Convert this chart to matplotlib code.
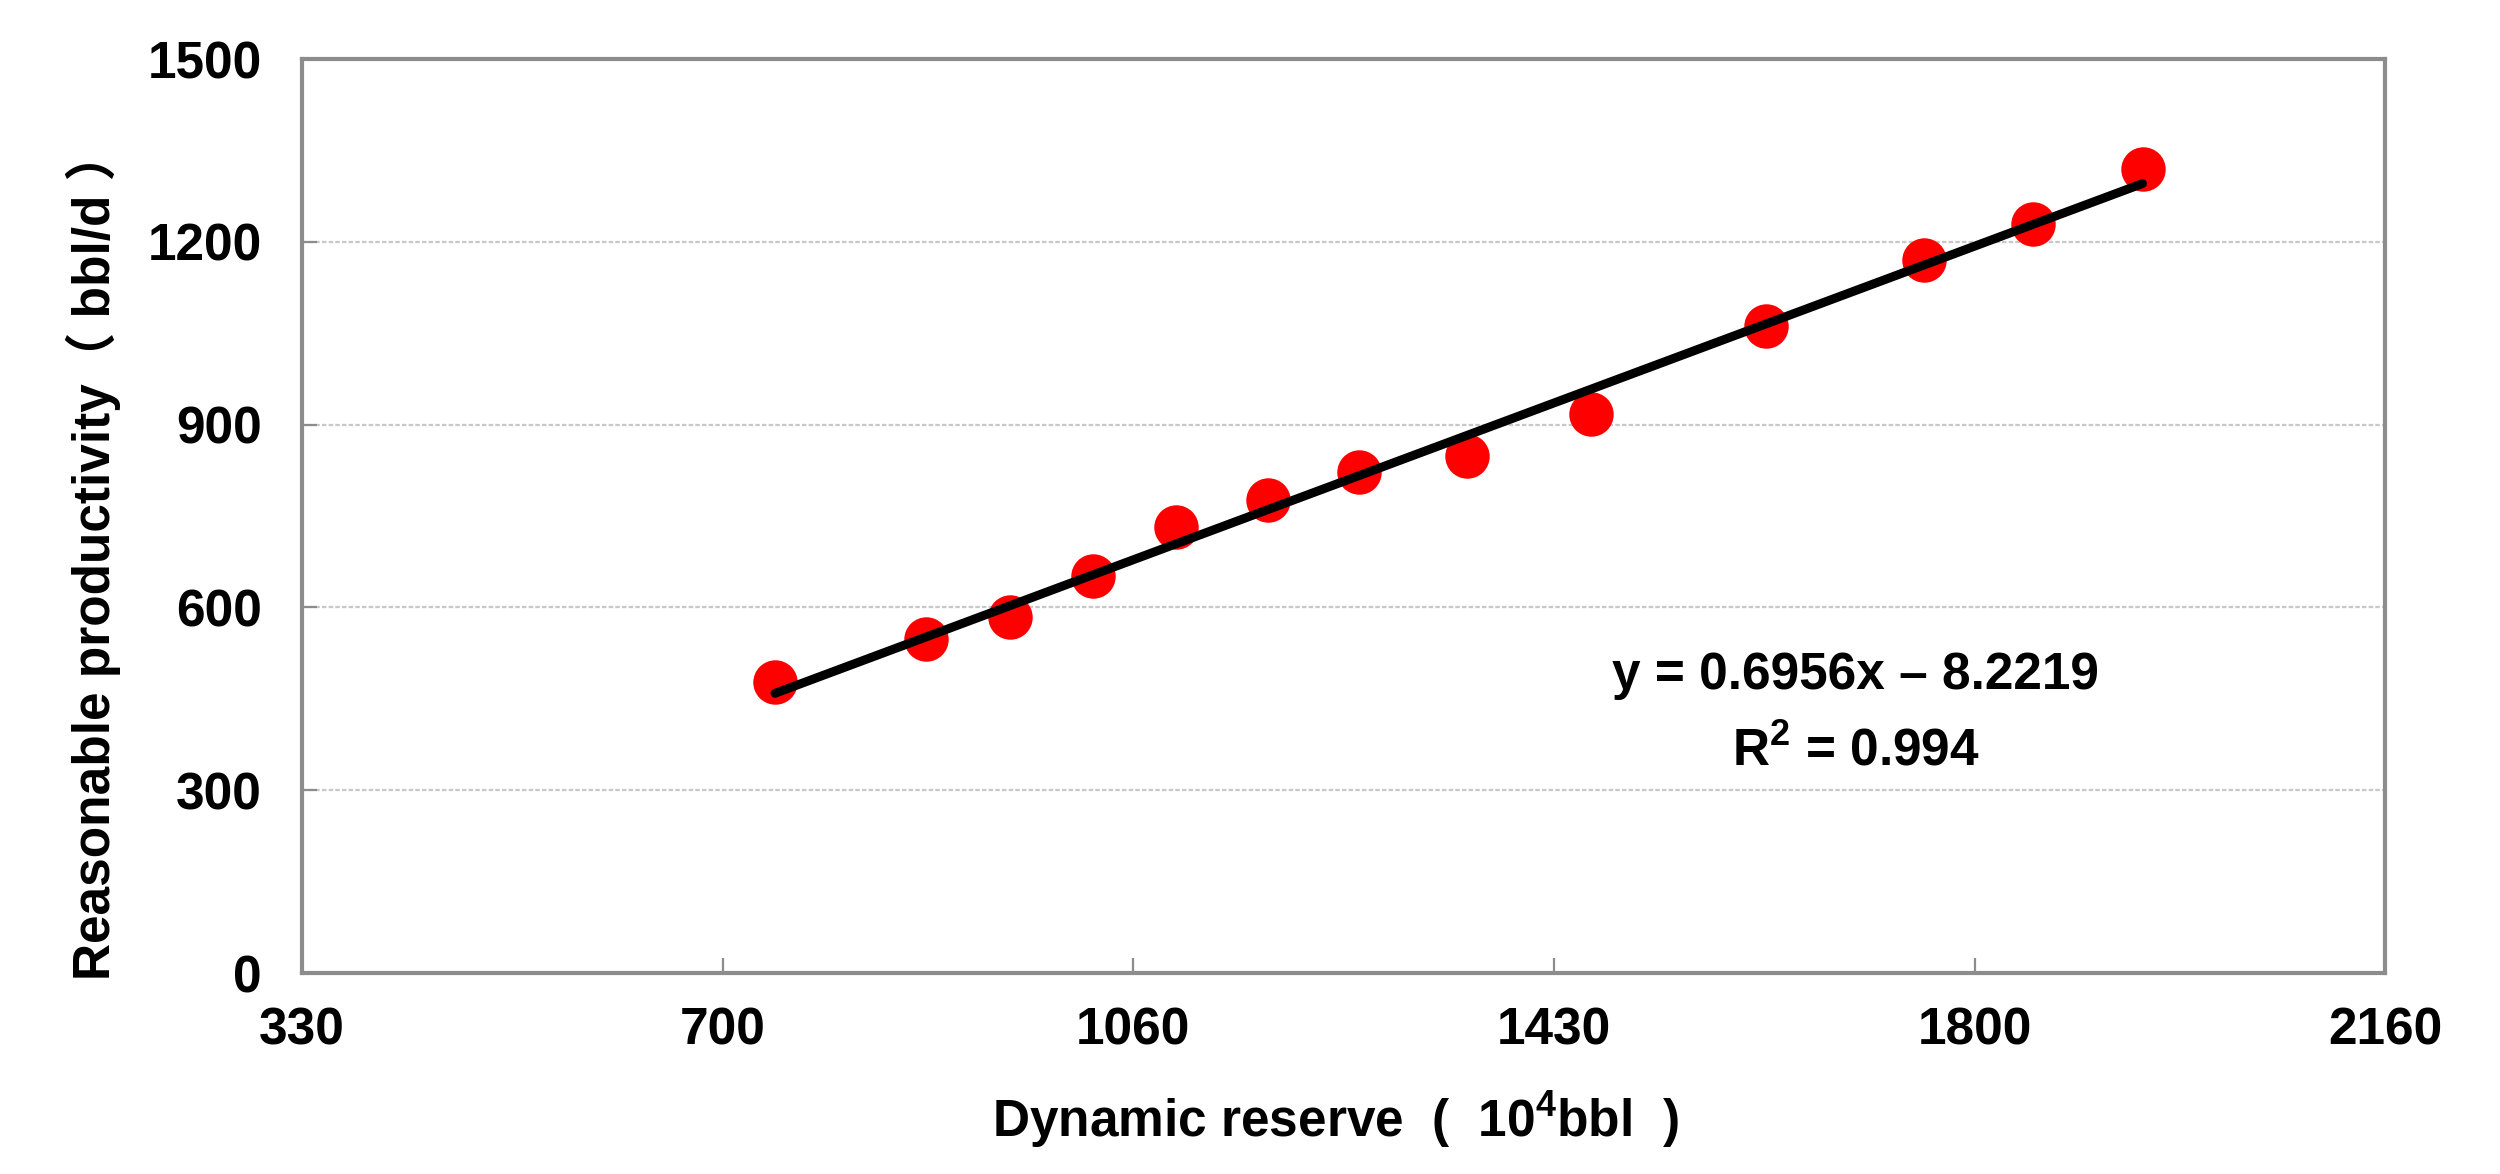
import matplotlib
matplotlib.use("Agg")
import matplotlib.pyplot as plt
import numpy as np

plt.rcParams['font.family'] = ['Liberation Sans', 'Noto Sans CJK SC', 'DejaVu Sans']
plt.rcParams['font.weight'] = 'bold'
plt.rcParams['mathtext.fontset'] = 'custom'
plt.rcParams['mathtext.bf'] = 'Liberation Sans:bold'
plt.rcParams['mathtext.rm'] = 'Liberation Sans:bold'
plt.rcParams['mathtext.default'] = 'bf'

# values
reserve = [745.5, 878.6, 952, 1024.6, 1098.2, 1179, 1258.7, 1353.6, 1462, 1616, 1755.3, 1850.6, 1947]
productivity = [477.6, 548, 585, 652, 732.5, 776.5, 822, 848.7, 917.8, 1062, 1170, 1228.6, 1319.7]
x_ticks = [330, 700, 1060, 1430, 1800, 2160]
y_ticks = [0, 300, 600, 900, 1200, 1500]
eq_text = "y = 0.6956x \u2013 8.2219"
r2_text = "R$^{2}$ = 0.994"

fs = 18.5
gray = '#8c8c8c'

fig = plt.figure(figsize=(12.5, 5.87), dpi=200)
ax = fig.add_axes([0.1208, 0.1712, 0.8332, 0.7785])

x = np.array(reserve)
y = np.array(productivity)
ax.plot(x, y, 'o', color='#ff0000', markersize=16, markeredgewidth=0, zorder=2)

k, b = np.polyfit(x, y, 1)
xs = np.array([x.min(), x.max()])
ax.plot(xs, k * xs + b, color='black', linewidth=3.2, solid_capstyle='round', zorder=3)

ax.set_xlim(330, 2160)
ax.set_ylim(0, 1500)
ax.set_xticks(x_ticks)
ax.set_yticks(y_ticks)
ax.grid(axis='y', color='#c8c8c8', linestyle=(0, (2, 1)), linewidth=0.8)
ax.set_axisbelow(True)

for s in ax.spines.values():
    s.set_color(gray)
    s.set_linewidth(1.5)
ax.tick_params(direction='in', color=gray, width=0.8, length=5.5, labelsize=fs)
ax.tick_params(axis='x', pad=12)
ax.tick_params(axis='y', pad=14.5)
for lab in ax.get_xticklabels() + ax.get_yticklabels():
    lab.set_fontweight('bold')

ax.set_xlabel("Dynamic reserve  (  10$^{4}$bbl  )", fontsize=fs, fontweight='bold', va='center')
ax.xaxis.set_label_coords(0.496, -0.161)
ax.set_ylabel("Reasonable productivity\uff08 bbl/d \uff09", fontsize=fs, fontweight='bold', va='center')
ax.yaxis.set_label_coords(-0.1003, 0.458)

ax.text(1695, 489, eq_text, fontsize=fs, fontweight='bold', ha='center', va='center')
ax.text(1695, 363, r2_text, fontsize=fs, fontweight='bold', ha='center', va='center')

fig.savefig("out.png", dpi=200)
